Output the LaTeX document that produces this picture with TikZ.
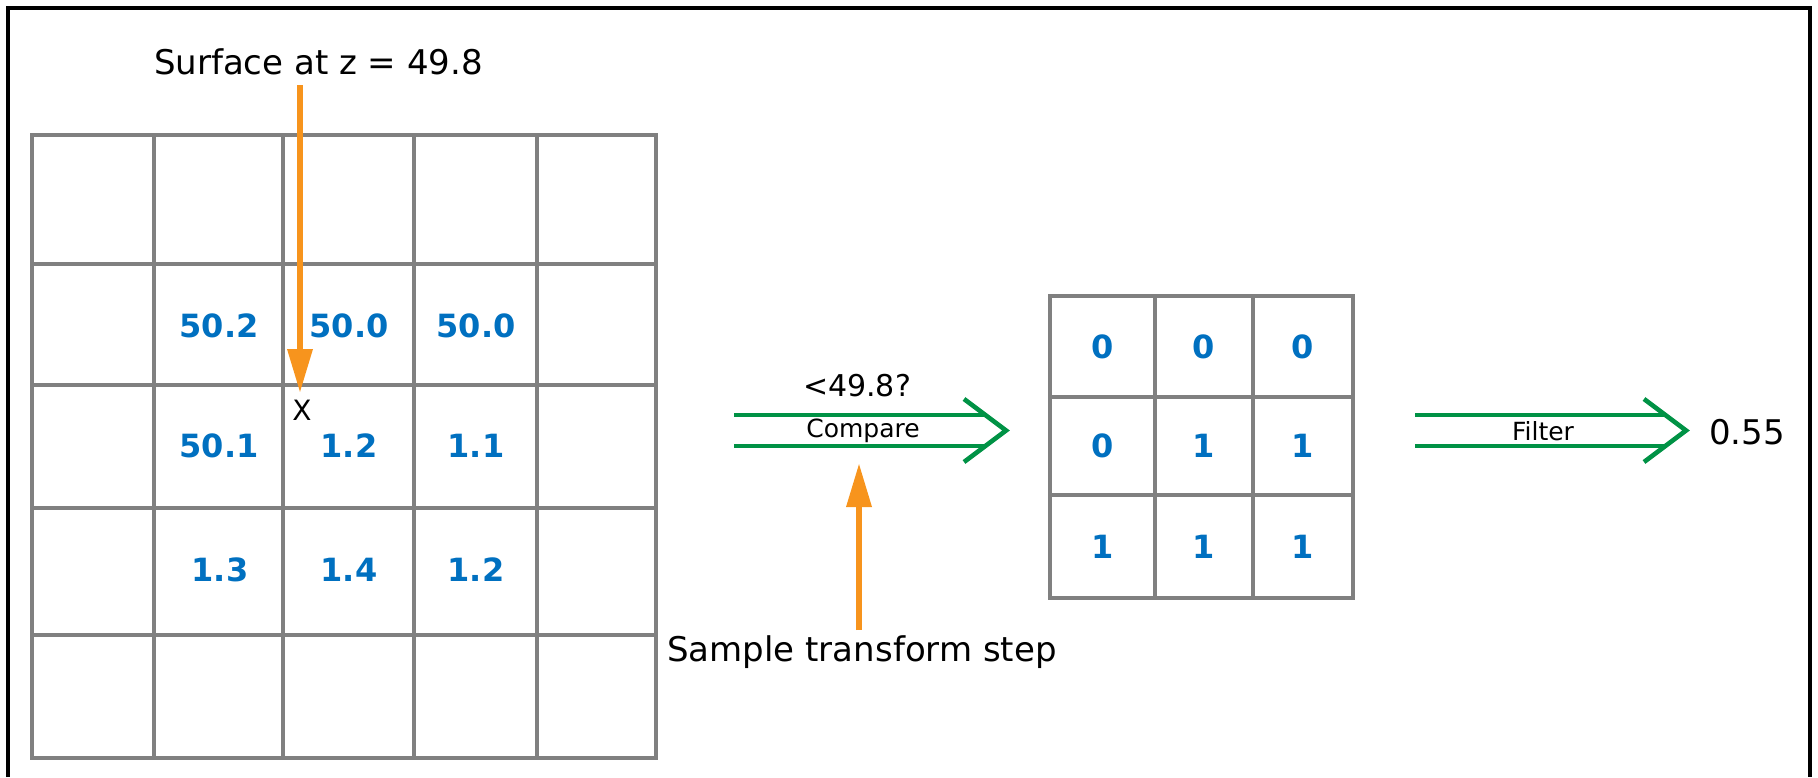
\documentclass[tikz,border=0pt]{standalone}
\usepackage{fontspec}
\setmainfont{DejaVu Sans}
\usetikzlibrary{arrows.meta}
\definecolor{gridgray}{RGB}{128,128,128}
\definecolor{numblue}{RGB}{0,112,192}
\definecolor{arrgreen}{RGB}{0,146,69}
\definecolor{arrorange}{RGB}{247,148,29}
\begin{document}
\begin{tikzpicture}[x=0.5pt,y=-0.5pt,
  gridline/.style={draw=gridgray,line width=2pt},
  num/.style={font=\fontsize{16}{19}\selectfont\bfseries,text=numblue},
  lbl/.style={font=\fontsize{17}{20}\selectfont,anchor=base},
  smalllbl/.style={font=\fontsize{12.5}{15}\selectfont,anchor=base},
  midlbl/.style={font=\fontsize{14}{17}\selectfont,anchor=base},
  thrlbl/.style={font=\fontsize{15}{18}\selectfont,anchor=base},
  orangearrow/.style={draw=arrorange,line width=3.25pt,-{Triangle[length=22pt,width=12pt]}},
  greenline/.style={draw=arrgreen,line width=2.3pt},
  chevron/.style={draw=arrgreen,line width=2.3pt,miter limit=10},
]
\useasboundingbox (0,0) rectangle (1818,777);
% outer frame (open at the bottom)
\draw[line width=1.6pt] (8,777) -- (8,8) -- (1810,8) -- (1810,777);

% left 5x5 grid
\draw[gridline] (32,135) rectangle (656,758);
\foreach \x in {154,283,414,537} \draw[gridline] (\x,135) -- (\x,758);
\foreach \y in {264,385,508,635} \draw[gridline] (32,\y) -- (656,\y);

\node[num] (a11) at (219,326) {50.2};
\node[num] (a12) at (349,326) {50.0};
\node[num] (a13) at (476,326) {50.0};
\node[num] (a21) at (219,446) {50.1};
\node[num] (a22) at (349,446) {1.2};
\node[num] (a23) at (476,446) {1.1};
\node[num] (a31) at (220,570) {1.3};
\node[num] (a32) at (349,570) {1.4};
\node[num] (a33) at (476,570) {1.2};

% right 3x3 grid
\draw[gridline] (1050,296) rectangle (1353,598);
\foreach \x in {1155,1253} \draw[gridline] (\x,296) -- (\x,598);
\foreach \y in {397,495} \draw[gridline] (1050,\y) -- (1353,\y);

\node[num] (b11) at (1102.5,346.5) {0};
\node[num] (b12) at (1204,346.5) {0};
\node[num] (b13) at (1303,346.5) {0};
\node[num] (b21) at (1102.5,446) {0};
\node[num] (b22) at (1204,446) {1};
\node[num] (b23) at (1303,446) {1};
\node[num] (b31) at (1102.5,546.5) {1};
\node[num] (b32) at (1204,546.5) {1};
\node[num] (b33) at (1303,546.5) {1};

% labels
\node[lbl] (title) at (318.5,74) {Surface at z = 49.8};
\node[midlbl] (xmark) at (302,420) {X};
\node[thrlbl] (thr) at (857,396) {<49.8?};
\node[smalllbl] (cmp) at (863,437) {Compare};
\node[smalllbl] (flt) at (1543,440) {Filter};
\node[lbl] (res) at (1747,444) {0.55};
\node[lbl] (step) at (862,661) {Sample transform step};

% orange arrows
\coordinate (sTop) at (300,85);
\coordinate (sTip) at (300,393);
\draw[orangearrow] (sTop) -- (sTip);
\coordinate (tBot) at (859,630);
\coordinate (tTip) at (859,463);
\draw[orangearrow] (tBot) -- (tTip);

% compare arrow
\coordinate (c1) at (734,415);
\coordinate (c2) at (987,415);
\coordinate (c3) at (734,446);
\coordinate (c4) at (986,446);
\draw[greenline] (c1) -- (c2);
\draw[greenline] (c3) -- (c4);
\draw[chevron] (964,399) -- (1006,430.5) -- (964,462);

% filter arrow
\coordinate (f1) at (1415,415);
\coordinate (f2) at (1667,415);
\coordinate (f3) at (1415,446);
\coordinate (f4) at (1666,446);
\draw[greenline] (f1) -- (f2);
\draw[greenline] (f3) -- (f4);
\draw[chevron] (1644,399) -- (1686,430.5) -- (1644,462);
\end{tikzpicture}
\end{document}
